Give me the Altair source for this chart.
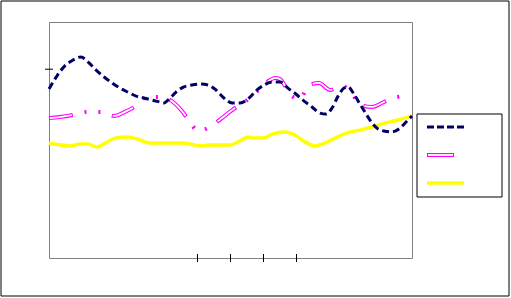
import altair as alt
import pandas as pd

# ---- data (x in 0..110, y in 0..100) ----
navy_x = [0, 2.4, 4.8, 7.3, 9.7, 11.8, 14.2, 16.7, 19.1, 21.5, 23.9, 26.4, 28.8, 31.2, 33.6,
          34.8, 36.7, 38.5, 40.9, 43.3, 45.8, 48.2, 50.6, 53.0, 55.5, 57.9, 60.3, 62.7, 65.2,
          67.6, 70.0, 72.4, 74.8, 77.3, 79.7, 82.1, 83.9, 85.8, 87.6, 89.4, 90.6, 92.4, 94.2,
          96.1, 97.9, 99.7, 101.5, 103.9, 106.4, 108.2, 110]
navy_y = [71.6, 77.1, 81.4, 83.9, 85.2, 83.1, 79.7, 76.7, 74.2, 72.0, 70.3, 68.6, 67.8, 66.9, 66.1,
          65.7, 67.8, 70.3, 72.5, 73.3, 73.7, 73.3, 71.2, 67.8, 65.7, 65.7, 67.4, 70.8, 73.3,
          74.6, 74.6, 72.0, 69.5, 66.5, 64.0, 61.4, 61.0, 63.6, 68.6, 72.0, 72.5, 69.5, 65.3,
          61.0, 57.2, 54.7, 53.8, 53.4, 55.1, 57.6, 60.2]

pink_x = [0, 3.3, 7.3, 11.5, 15.8, 19.7, 23.0, 26.7, 29.4, 33.6, 37.6, 40.3, 42.7, 45.2, 49.1,
          52.4, 55.5, 58.5, 61.5, 64.8, 67.0, 68.5, 70.0, 71.5, 73.0, 76.1, 78.5, 81.8, 85.2,
          88.8, 91.8, 94.2, 97.9, 101.5, 105.2, 109.4]
pink_y = [59.3, 59.7, 60.6, 61.9, 61.9, 60.2, 61.9, 64.8, 68.2, 68.2, 66.1, 62.3, 57.6, 53.8, 55.9,
          59.3, 62.7, 65.3, 68.6, 72.9, 75.4, 76.3, 75.8, 72.9, 69.1, 67.4, 72.9, 74.2, 71.2,
          72.9, 69.9, 64.8, 64.0, 66.1, 68.2, 68.6]

yel_x = [0, 3.3, 6.4, 9.4, 11.8, 14.5, 17.0, 20.0, 23.9, 27.6, 30.6, 35.2, 39.7, 42.7, 45.8,
         48.8, 51.8, 54.8, 57.9, 60.3, 62.7, 64.8, 67.6, 71.5, 74.5, 77.6, 80.6, 83.6, 86.7,
         90.3, 94.2, 97.9, 101.8, 105.8, 110]
yel_y = [48.7, 47.9, 47.5, 48.3, 48.3, 47.0, 48.7, 50.8, 51.3, 50.0, 48.7, 48.7, 48.7, 48.3, 47.5,
         47.9, 47.9, 47.9, 49.6, 51.3, 50.8, 50.8, 52.5, 53.4, 52.1, 49.2, 47.5, 48.7, 50.8,
         53.0, 54.2, 55.5, 57.2, 58.5, 60.2]

x_ticks = [45, 55, 65, 75]
y_ticks = [80]

NAVY = "#000066"
PINK = "#FF00FF"
YELLOW = "#FFFF00"

navy_df = pd.DataFrame({"x": navy_x, "y": navy_y})
pink_df = pd.DataFrame({"x": pink_x, "y": pink_y})
yel_df = pd.DataFrame({"x": yel_x, "y": yel_y})

xs = alt.Scale(domain=[0, 110], nice=False, zero=False)
ys = alt.Scale(domain=[0, 100], nice=False, zero=False)
noax = alt.Axis(labels=False, ticks=False, grid=False, title=None, domainColor="black")

X = alt.X("x:Q", scale=xs, axis=noax)
Y = alt.Y("y:Q", scale=ys, axis=noax)

yellow = alt.Chart(yel_df).mark_line(color=YELLOW, strokeWidth=3.5, interpolate="monotone").encode(x=X, y=Y)
pink_outer = alt.Chart(pink_df).mark_line(
    color=PINK, strokeWidth=4, interpolate="monotone",
    strokeDash=[24, 12, 2, 12, 2, 12], strokeCap="butt").encode(x=X, y=Y)
pink_inner = alt.Chart(pink_df).mark_line(
    color="white", strokeWidth=1.8, interpolate="monotone",
    strokeDash=[22, 42], strokeDashOffset=63, strokeCap="butt").encode(x=X, y=Y)
navy = alt.Chart(navy_df).mark_line(
    color=NAVY, strokeWidth=3, interpolate="monotone",
    strokeDash=[7, 4], strokeCap="butt").encode(x=X, y=Y)

xt = alt.Chart(pd.DataFrame({"t": x_ticks})).mark_rule(color="black", strokeWidth=1).encode(
    x=alt.X("t:Q", scale=xs, axis=None), y=alt.value(232), y2=alt.value(240))
yt = alt.Chart(pd.DataFrame({"t": y_ticks})).mark_rule(color="black", strokeWidth=1).encode(
    y=alt.Y("t:Q", scale=ys, axis=None), x=alt.value(-4), x2=alt.value(4))

one = alt.Data(values=[{"a": 1}])
outer = alt.Chart(one).mark_rect(fill=None, stroke="black", strokeWidth=1).encode(
    x=alt.value(-48), x2=alt.value(460), y=alt.value(-21), y2=alt.value(274))
leg_box = alt.Chart(one).mark_rect(fill="white", stroke="black", strokeWidth=1).encode(
    x=alt.value(368), x2=alt.value(453), y=alt.value(92), y2=alt.value(175))
leg_navy = alt.Chart(one).mark_rule(color=NAVY, strokeWidth=3, strokeDash=[7, 3], strokeCap="butt").encode(
    x=alt.value(378), x2=alt.value(415), y=alt.value(105))
leg_pink_o = alt.Chart(one).mark_rule(color=PINK, strokeWidth=4, strokeCap="butt").encode(
    x=alt.value(378), x2=alt.value(405), y=alt.value(133))
leg_pink_i = alt.Chart(one).mark_rule(color="white", strokeWidth=1.8, strokeCap="butt").encode(
    x=alt.value(379), x2=alt.value(404), y=alt.value(133))
leg_yel = alt.Chart(one).mark_rule(color=YELLOW, strokeWidth=3.5, strokeCap="butt").encode(
    x=alt.value(378), x2=alt.value(415), y=alt.value(161))

chart = alt.layer(
    outer, yellow, pink_outer, pink_inner, navy, xt, yt,
    leg_box, leg_navy, leg_pink_o, leg_pink_i, leg_yel
).properties(
    width=363, height=236,
    autosize=alt.AutoSizeParams(type="none"),
    padding={"left": 49, "top": 22, "right": 99, "bottom": 40},
    background="white",
).configure_view(stroke="#808080", strokeWidth=1)

chart.save("out.html", embed_options={"renderer": "svg", "actions": False})
